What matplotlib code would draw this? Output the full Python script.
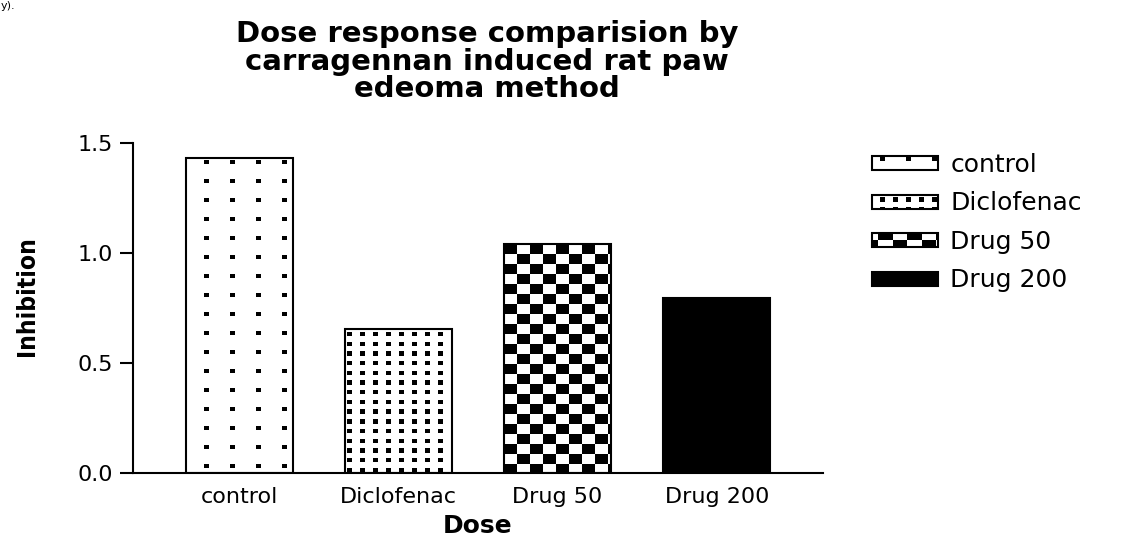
import numpy as np
import matplotlib
matplotlib.use("Agg")
import matplotlib.pyplot as plt
from matplotlib.patches import Rectangle
from matplotlib.legend_handler import HandlerBase
from matplotlib import font_manager as fm

# Data
groups = ["control", "Diclofenac", "Drug 50", "Drug 200"]
inhibition = [1.43, 0.655, 1.04, 0.795]
y_ticks = [0.0, 0.5, 1.0, 1.5]

title = "Dose response comparision by\ncarragennan induced rat paw\nedeoma method"
x_label = "Dose"
y_label = "Inhibition"

# fill patterns (pixel units): cell pitch, dot size, phase from the top-left corner
fills = {
    "control": dict(cell=(25.9, 19.0), dot=(5, 4), phase=(18, 2), legend_phase=(8, 1), checker=False),
    "Diclofenac": dict(cell=(13.0, 9.7), dot=(5, 4.3), phase=(2.3, 3), legend_phase=(8, 2.5), checker=False),
    "Drug 50": dict(cell=(13.0, 10.0), dot=(13.0, 10.0), phase=(0, 0), legend_phase=(6, 0), checker=True,
                    legend_cell=(14.5, 7.0)),
    "Drug 200": None,  # solid black
}

plt.rcParams["font.family"] = "DejaVu Sans"

DPI = 100
fig = plt.figure(figsize=(11.28, 5.38), dpi=DPI)
ax = fig.add_axes([133 / 1128, 65 / 538, 690 / 1128, 330 / 538])


def pattern_boxes(spec, w, h, phase, cell=None):
    cw, ch = cell if cell is not None else spec["cell"]
    dw, dh = (cw, ch) if spec["checker"] else spec["dot"]
    ox, oy = phase
    out = []
    for i in range(-int(np.ceil(ox / cw)) - 1, int(w / cw) + 2):
        for j in range(-int(np.ceil(oy / ch)) - 1, int(h / ch) + 2):
            if spec["checker"] and (i + j) % 2:
                continue
            x0 = max(ox + i * cw, 0)
            x1 = min(ox + i * cw + dw, w)
            y0 = max(oy + j * ch, 0)
            y1 = min(oy + j * ch + dh, h)
            if x1 > x0 and y1 > y0:
                out.append((x0, y0, x1 - x0, y1 - y0))
    return out


x = np.arange(len(groups))
bar_w = 0.67
ax.set_xlim(-0.667, len(groups) - 1 + 0.667)
ax.set_ylim(0, 1.5)

faces = ["black" if fills[g] is None else "white" for g in groups]
bars = ax.bar(x, inhibition, width=bar_w, color=faces, edgecolor="none", zorder=2)
ax.bar(x, inhibition, width=bar_w, fill=False, edgecolor="black", linewidth=1.5, zorder=3)

# pixels per data unit
sx = ax.bbox.width / np.diff(ax.get_xlim())[0]
sy = ax.bbox.height / np.diff(ax.get_ylim())[0]

for g, b in zip(groups, bars):
    spec = fills[g]
    if spec is None:
        continue
    x0, top = b.get_x(), b.get_height()
    for bx, by, bw, bh in pattern_boxes(spec, b.get_width() * sx, top * sy, spec["phase"]):
        ax.add_patch(Rectangle((x0 + bx / sx, top - (by + bh) / sy), bw / sx, bh / sy,
                               facecolor="black", edgecolor="none", antialiased=False, zorder=2.5))


class PatternHandler(HandlerBase):
    def __init__(self, spec):
        super().__init__()
        self.spec = spec

    def create_artists(self, legend, orig_handle, xdescent, ydescent, width, height, fontsize, trans):
        k = 72 / DPI  # px -> pt
        bw, bh = 66, 14
        x0 = -xdescent
        y0 = -ydescent + (height - bh * k) / 2
        solid = self.spec is None
        arts = [Rectangle((x0, y0), bw * k, bh * k, facecolor="black" if solid else "white",
                          edgecolor="none", transform=trans)]
        if not solid:
            for px, py, pw, ph in pattern_boxes(self.spec, bw, bh, self.spec["legend_phase"],
                                                self.spec.get("legend_cell")):
                arts.append(Rectangle((x0 + px * k, y0 + (bh - py - ph) * k), pw * k, ph * k,
                                      facecolor="black", edgecolor="none", antialiased=False,
                                      transform=trans))
        arts.append(Rectangle((x0, y0), bw * k, bh * k, fill=False, edgecolor="black",
                              linewidth=1.5, transform=trans))
        return arts


leg_fs = 18
ax.legend(list(bars), groups,
          handler_map={b: PatternHandler(fills[g]) for g, b in zip(groups, bars)},
          loc="upper left", bbox_to_anchor=(872 / 1128, 1 - 153 / 538),
          bbox_transform=fig.transFigure, frameon=False, fontsize=leg_fs,
          borderpad=0, borderaxespad=0, handlelength=47.5 / leg_fs, handleheight=0.7,
          handletextpad=0.5, labelspacing=0.58)

# axes styling
for side in ["top", "right"]:
    ax.spines[side].set_visible(False)
for side in ["left", "bottom"]:
    ax.spines[side].set_linewidth(1.5)

ax.set_xticks(x)
ax.set_xticklabels(groups)
ax.set_yticks(y_ticks)
ax.set_yticklabels([f"{t:.1f}" for t in y_ticks])
ax.tick_params(axis="y", direction="out", length=9.4, width=1.5, labelsize=16, pad=5)
ax.tick_params(axis="x", length=0, labelsize=16, pad=10)

ax.set_title(title, fontsize=21, fontweight="bold", linespacing=0.98, pad=33, x=0.513)

ax.set_xlabel(x_label, fontsize=18, fontweight="bold", va="center")
ax.xaxis.set_label_coords(0.5, -0.16)


# condensed bold font for the y label, sized to the reference length
def condensed_font():
    for fam in ["Liberation Sans Narrow", "Noto Sans", "Open Sans", "Roboto", "DejaVu Sans"]:
        for stretch in ["condensed", "semi-condensed", "normal"]:
            try:
                path = fm.findfont(fm.FontProperties(family=fam, weight="bold", stretch=stretch),
                                   fallback_to_default=False)
            except ValueError:
                continue
            if "Narrow" in path or "Condensed" in path:
                return fm.FontProperties(fname=path)
    return fm.FontProperties(family="DejaVu Sans", weight="bold")


fp = condensed_font()
fp.set_size(10)
renderer = fig.canvas.get_renderer()
probe = fig.text(0, 0, y_label, fontproperties=fp)
probe_w = probe.get_window_extent(renderer).width
probe.remove()
fp.set_size(10 * 118 / probe_w)

ax.set_ylabel(y_label, fontproperties=fp, va="center")
ax.yaxis.set_label_coords(-0.1536, 0.536)

# caption fragment at the top-left corner
fig.text(1 / 1128, 1 - 1 / 538, "y).", fontsize=8, va="top", ha="left")

fig.savefig("out.png", dpi=DPI)
